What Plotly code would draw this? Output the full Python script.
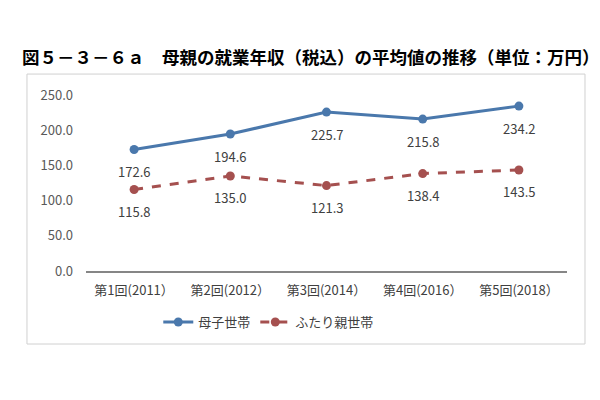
import plotly.graph_objects as go

# --- data ---
categories = ["第1回(2011）", "第2回(2012）", "第3回(2014）", "第4回(2016）", "第5回(2018）"]
boshi = [172.6, 194.6, 225.7, 215.8, 234.2]
futari = [115.8, 135.0, 121.3, 138.4, 143.5]
y_ticks = [0, 50, 100, 150, 200, 250]

FONT = "Noto Sans CJK JP"
BLUE = "#4A78AC"
RED = "#A5504F"

fig = go.Figure()

fig.add_trace(go.Scatter(
    x=categories, y=boshi, name="母子世帯",
    mode="lines+markers",
    line=dict(color=BLUE, width=3),
    marker=dict(size=9, color=BLUE),
))

fig.add_trace(go.Scatter(
    x=categories, y=futari, name="ふたり親世帯",
    mode="lines+markers",
    line=dict(color=RED, width=3, dash="dash"),
    marker=dict(size=9, color=RED),
))

# data labels below the points
for series in (boshi, futari):
    for cat, v in zip(categories, series):
        fig.add_annotation(x=cat, y=v, text=f"{v:.1f}", showarrow=False,
                           yshift=-22, font=dict(size=13, color="#404040"))

# chart area border (Excel-like frame)
fig.add_shape(type="rect", xref="paper", yref="paper",
              x0=-0.1227, x1=1.0374, y0=-0.4148, y1=1.119,
              line=dict(color="#D0D0D0", width=1), layer="below")

# page body adds ~8px offset, so margins are shifted to compensate
fig.update_layout(
    width=600, height=400,
    paper_bgcolor="white", plot_bgcolor="white",
    margin=dict(l=78, r=41, t=87, b=137, autoexpand=False),
    font=dict(family=FONT, color="#404040"),
    title=dict(
        text="<b>図５－３－６ａ　母親の就業年収（税込）の平均値の推移（単位：万円）</b>",
        x=14 / 600, xanchor="left", xref="container",
        y=1 - 50 / 400, yanchor="middle", yref="container",
        font=dict(size=17.5, color="black", family=FONT),
    ),
    xaxis=dict(
        range=[-0.5, 4.5], automargin=False,
        showgrid=False, showline=True, linecolor="#868686", linewidth=1.5,
        ticks="", tickfont=dict(size=13, color="#404040"), ticklabelstandoff=7,
    ),
    yaxis=dict(
        range=[0, 250], tickvals=y_ticks, automargin=False,
        ticktext=[f"{v:.1f}" for v in y_ticks],
        showgrid=False, zeroline=False, showline=False,
        tickfont=dict(size=13, color="#595959"), ticklabelstandoff=12,
    ),
    legend=dict(
        orientation="h", x=0.38, xanchor="center", y=-0.29, yanchor="middle",
        font=dict(size=13, color="#404040"),
    ),
    showlegend=True,
)

fig.write_html("out.html")
